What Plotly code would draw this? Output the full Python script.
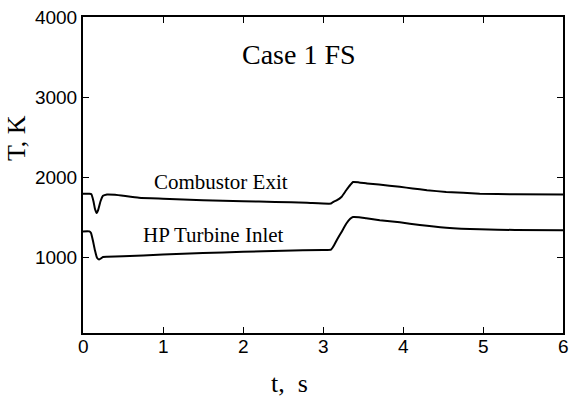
import plotly.graph_objects as go

# Combustor exit temperature (K) vs time (s)
t_comb = [0.0, 0.08, 0.105, 0.13, 0.15, 0.17, 0.19, 0.22, 0.25, 0.3, 0.4, 0.7, 1.0, 1.5, 2.0, 2.4, 2.8, 3.1,
          3.13, 3.17, 3.23, 3.29, 3.34, 3.375, 3.45, 3.55, 3.7, 3.96, 4.12, 4.3, 4.54, 4.96, 5.4, 6.0]
T_comb = [1790, 1790, 1785, 1700, 1600, 1550, 1590, 1700, 1765, 1782, 1778, 1740, 1728, 1710, 1698, 1688, 1678, 1668,
          1690, 1708, 1750, 1834, 1900, 1937, 1932, 1920, 1905, 1877, 1857, 1835, 1813, 1792, 1784, 1780]

# HP turbine inlet temperature (K) vs time (s)
t_hp = [0.0, 0.08, 0.1, 0.125, 0.15, 0.175, 0.2, 0.22, 0.25, 0.3, 0.5, 1.0, 1.5, 2.0, 2.5, 3.0, 3.1,
        3.14, 3.18, 3.23, 3.29, 3.34, 3.375, 3.45, 3.54, 3.71, 3.96, 4.21, 4.54, 4.96, 5.4, 6.0]
T_hp = [1320, 1320, 1300, 1200, 1080, 990, 968, 980, 1000, 1003, 1010, 1030, 1050, 1065, 1078, 1088, 1092,
        1150, 1225, 1310, 1415, 1478, 1500, 1497, 1484, 1459, 1434, 1400, 1367, 1346, 1338, 1333]

x_ticks = [0, 1, 2, 3, 4, 5, 6]
x_tick_labels = ["0", "1", "2", "3", "4", "5", "6"]
y_ticks = [1000, 2000, 3000, 4000]

fig = go.Figure()
fig.add_trace(go.Scatter(x=t_comb, y=T_comb, mode="lines", line=dict(color="black", width=2, shape="spline", smoothing=0.4),
                         name="Combustor Exit", showlegend=False))
fig.add_trace(go.Scatter(x=t_hp, y=T_hp, mode="lines", line=dict(color="black", width=2, shape="spline", smoothing=0.4),
                         name="HP Turbine Inlet", showlegend=False))

serif = "Liberation Serif, Times New Roman, serif"
sans = "Liberation Sans, Arial, sans-serif"

annotations = [
    dict(x=2.70, y=3534, xref="x", yref="y", text="Case 1 FS", showarrow=False,
         font=dict(family=serif, size=28, color="black")),
    dict(x=1.72, y=1934, xref="x", yref="y", text="Combustor Exit", showarrow=False,
         font=dict(family=serif, size=21, color="black")),
    dict(x=1.63, y=1271, xref="x", yref="y", text="HP Turbine Inlet", showarrow=False,
         font=dict(family=serif, size=21, color="black")),
    dict(x=-0.138, y=0.616, xref="paper", yref="paper", text="T, K", showarrow=False, textangle=-90,
         xanchor="center", yanchor="middle", font=dict(family=serif, size=26, color="black")),
    dict(x=0.43, y=-0.159, xref="paper", yref="paper", text="t,  s", showarrow=False,
         xanchor="center", yanchor="middle", font=dict(family=serif, size=26, color="black")),
]
for tv, tl in zip(x_ticks, x_tick_labels):
    annotations.append(dict(x=tv, y=0, xref="x", yref="paper", text=tl, showarrow=False,
                            xanchor="center", yanchor="top", yshift=-1,
                            font=dict(family=sans, size=19, color="black")))

fig.update_layout(
    width=569, height=403,
    margin=dict(l=83, r=6, t=17, b=70),
    paper_bgcolor="white", plot_bgcolor="white",
    xaxis=dict(range=[0, 6], tickvals=x_ticks, ticks="inside", ticklen=6, tickwidth=1, tickcolor="black",
               showticklabels=False, automargin=False,
               showline=True, linecolor="black", linewidth=2, mirror="ticks", showgrid=False, zeroline=False),
    yaxis=dict(range=[50, 4000], tickvals=y_ticks, ticks="inside", ticklen=6, tickwidth=1, tickcolor="black",
               automargin=False,
               showline=True, linecolor="black", linewidth=2, mirror="ticks", showgrid=False, zeroline=False,
               tickfont=dict(family=sans, size=19, color="black")),
    annotations=annotations,
)

fig.write_html("out.html")
